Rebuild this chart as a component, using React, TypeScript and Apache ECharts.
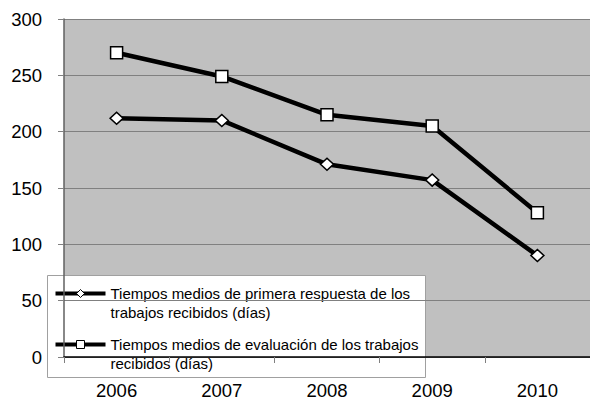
import React, { useEffect, useRef } from "react";
import * as echarts from "echarts";

const years = ["2006", "2007", "2008", "2009", "2010"];
const primeraRespuesta = [212, 210, 171, 157, 90];
const evaluacion = [270, 249, 215, 205, 128];
const legendLabels = [
  "Tiempos medios de primera respuesta de los\ntrabajos recibidos (días)",
  "Tiempos medios de evaluación de los trabajos\nrecibidos (días)",
];

const FONT = "Liberation Sans, Arial, sans-serif";

export default function App() {
  const ref = useRef<HTMLDivElement>(null);
  useEffect(() => {
    if (!ref.current) return;
    const chart = echarts.init(ref.current, undefined, { renderer: "svg" });
    const legendTop = 275;
    chart.setOption({
      animation: false,
      backgroundColor: "#ffffff",
      grid: { left: 64, top: 19, width: 536, height: 338, show: true, backgroundColor: "#c0c0c0", borderWidth: 0 },
      xAxis: {
        type: "category",
        data: years,
        boundaryGap: true,
        axisLine: { lineStyle: { color: "#000", width: 1.5 } },
        axisTick: { show: true, length: 6, lineStyle: { color: "#808080" } },
        axisLabel: { fontFamily: FONT, fontSize: 18.5, color: "#000", margin: 24 },
      },
      yAxis: {
        type: "value",
        min: 0,
        max: 300,
        interval: 50,
        axisLine: { show: true, lineStyle: { color: "#606060", width: 1.5 } },
        axisTick: { show: true, length: 6, lineStyle: { color: "#808080" } },
        splitLine: { lineStyle: { color: "#808080", width: 1 } },
        axisLabel: { fontFamily: FONT, fontSize: 18.5, color: "#000", margin: 22 },
      },
      series: [
        {
          name: legendLabels[0],
          type: "line",
          data: primeraRespuesta,
          symbol: "diamond",
          symbolSize: [13, 12],
          lineStyle: { color: "#000", width: 4.5 },
          itemStyle: { color: "#fff", borderColor: "#000", borderWidth: 1.5 },
          z: 3,
        },
        {
          name: legendLabels[1],
          type: "line",
          data: evaluacion,
          symbol: "rect",
          symbolSize: 12,
          lineStyle: { color: "#000", width: 4.5 },
          itemStyle: { color: "#fff", borderColor: "#000", borderWidth: 1.5 },
          z: 3,
        },
      ],
      graphic: [
        {
          type: "group",
          left: 47,
          top: legendTop,
          z: 100,
          children: [
            { type: "rect", shape: { x: 0, y: 0, width: 378, height: 102 }, style: { fill: "#fff", stroke: "#a0a0a0", lineWidth: 1 } },
            { type: "line", shape: { x1: 8, y1: 18, x2: 58, y2: 18 }, style: { stroke: "#000", lineWidth: 4 } },
            { type: "polygon", shape: { points: [[33, 14], [37, 18], [33, 22], [29, 18]] }, style: { fill: "#fff", stroke: "#000", lineWidth: 1 } },
            { type: "text", x: 63, y: 8, style: { text: legendLabels[0], fontFamily: FONT, fontSize: 15, fill: "#000", lineHeight: 19 } },
            { type: "line", shape: { x1: 8, y1: 69, x2: 58, y2: 69 }, style: { stroke: "#000", lineWidth: 4 } },
            { type: "rect", shape: { x: 29, y: 65, width: 8, height: 8 }, style: { fill: "#fff", stroke: "#000", lineWidth: 1 } },
            { type: "text", x: 63, y: 59, style: { text: legendLabels[1], fontFamily: FONT, fontSize: 15, fill: "#000", lineHeight: 19 } },
          ],
        },
      ],
    });
    return () => chart.dispose();
  }, []);
  return <div ref={ref} style={{ width: 590, height: 400, position: "absolute", left: 0, top: 0 }} />;
}
